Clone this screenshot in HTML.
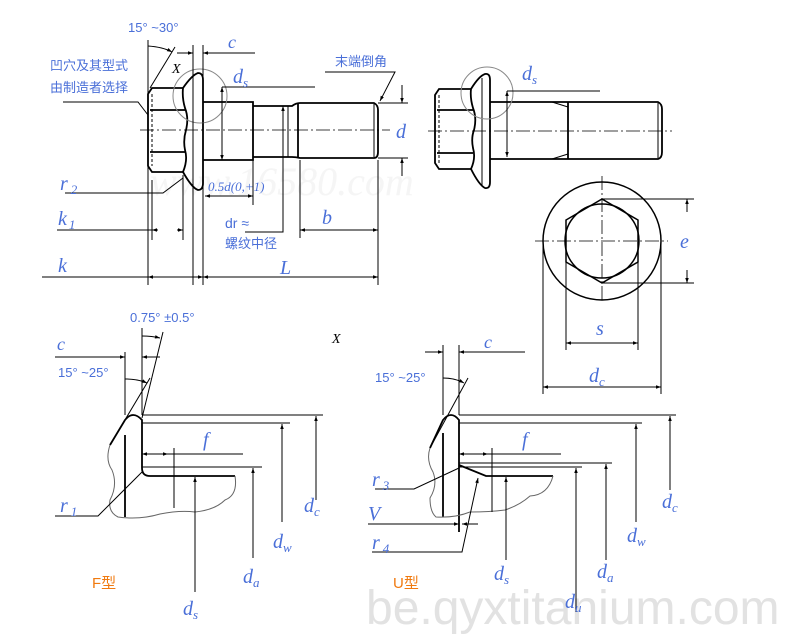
<!DOCTYPE html>
<html><head><meta charset="utf-8"><style>
html,body{margin:0;padding:0;background:#fff}
svg{display:block}
.b{fill:#4a6fd8;font-family:"Liberation Serif",serif;font-style:italic}
.s{fill:#4a6fd8;font-family:"Liberation Sans","Noto Sans CJK SC",sans-serif}
</style></head><body>
<svg width="800" height="640" viewBox="0 0 800 640" xmlns="http://www.w3.org/2000/svg">
<defs><marker id="a" viewBox="0 0 10 10" refX="10" refY="5" markerWidth="7" markerHeight="5" orient="auto-start-reverse"><path d="M0,1.5L10,5L0,8.5z" fill="#000"/></marker></defs>
<text x="150" y="195" font-size="40" fill="#f5f5f5" font-family="Liberation Serif" font-style="italic">www.16580.com</text>
<text x="366" y="624" font-size="48" fill="#e2e2e2" font-family="Liberation Sans">be.qyxtitanium.com</text>
<g fill="none" stroke="#000" stroke-width="1">
<line x1="140" y1="130" x2="390" y2="130" stroke-dasharray="14,3,2,3" stroke-width="0.8"/>
<g stroke-width="1.8">
<path d="M183,88 L152,88 L148,94 L148,166 L152,172 L183,172"/>
<line x1="150" y1="110" x2="185" y2="110"/><line x1="150" y1="152" x2="185" y2="152"/>
<path d="M183,88 Q192,75 198,73 Q203,73 203,80 L203,183 Q203,190 198,190 Q192,188 183,172 Q188,160 185,150 Q183,140 186,130 Q189,118 185,108 Q182,98 183,88"/>
<path d="M203,102 Q208,102 212,102 L253,102 L253,160 L212,160 Q208,160 203,160"/>
<path d="M253,106 L292,106 Q296,103 300,103 L374,103 Q378,105 378,110 L378,152 Q378,158 374,158 L300,158 Q296,157 292,157 L253,157"/>
<line x1="298" y1="103" x2="298" y2="158"/>
</g>
<line x1="374" y1="104" x2="374" y2="157"/>
<line x1="288" y1="106" x2="288" y2="157"/>
<line x1="152" y1="94" x2="152" y2="166" stroke-dasharray="3,2"/>
<circle cx="200" cy="96" r="27" stroke="#888"/>
<line x1="222" y1="87" x2="315" y2="87"/><line x1="222" y1="87" x2="222" y2="160" marker-end="url(#a)" marker-start="url(#a)"/>
<line x1="378" y1="103" x2="408" y2="103"/><line x1="378" y1="158" x2="408" y2="158"/>
<line x1="402" y1="85" x2="402" y2="103" marker-end="url(#a)"/><line x1="402" y1="176" x2="402" y2="158" marker-end="url(#a)"/>
<line x1="148" y1="40" x2="148" y2="285"/><line x1="193" y1="45" x2="193" y2="285"/><line x1="203" y1="45" x2="203" y2="285"/>
<line x1="177" y1="53" x2="193" y2="53" marker-end="url(#a)"/><line x1="255" y1="53" x2="203" y2="53" marker-end="url(#a)"/>
<line x1="150" y1="88" x2="175" y2="47"/><path d="M148,46 Q163,47 172,52" marker-end="url(#a)"/>
<path d="M63,102 L138,102 L148,115"/>
<path d="M65,193 L163,193 L183,178"/>
<line x1="152" y1="180" x2="152" y2="240"/><line x1="183" y1="175" x2="183" y2="240"/>
<line x1="57" y1="230" x2="152" y2="230"/><line x1="158" y1="230" x2="152" y2="230" marker-end="url(#a)"/><line x1="177" y1="230" x2="183" y2="230" marker-end="url(#a)"/>
<line x1="42" y1="277" x2="148" y2="277"/><line x1="175" y1="277" x2="148" y2="277" marker-end="url(#a)"/><line x1="175" y1="277" x2="203" y2="277" marker-end="url(#a)"/>
<line x1="290" y1="277" x2="203" y2="277" marker-end="url(#a)"/><line x1="290" y1="277" x2="378" y2="277" marker-end="url(#a)"/>
<line x1="378" y1="160" x2="378" y2="285"/><line x1="253" y1="160" x2="253" y2="205"/><line x1="300" y1="160" x2="300" y2="238"/>
<line x1="230" y1="196" x2="205" y2="196" marker-end="url(#a)"/><line x1="230" y1="196" x2="253" y2="196" marker-end="url(#a)"/>
<line x1="340" y1="230" x2="300" y2="230" marker-end="url(#a)"/><line x1="340" y1="230" x2="378" y2="230" marker-end="url(#a)"/>
<path d="M245,232 L283,232 L283,106" marker-end="url(#a)"/><line x1="283" y1="140" x2="283" y2="106"/>
<path d="M325,72 L395,72 L380,101" marker-end="url(#a)"/>
<line x1="428" y1="131" x2="672" y2="131" stroke-dasharray="14,3,2,3" stroke-width="0.8"/>
<g stroke-width="1.8">
<path d="M471,89 L439,89 L435,95 L435,163 L439,169 L471,169"/>
<line x1="437" y1="110" x2="473" y2="110"/><line x1="437" y1="153" x2="473" y2="153"/>
<path d="M471,89 Q479,76 485,74 Q490,73 490,80 L490,182 Q490,189 485,188 Q479,185 471,169 Q476,158 473,148 Q471,138 474,130 Q477,118 473,108 Q470,98 471,89"/>
<path d="M490,102 L658,102 Q662,104 662,109 L662,152 Q662,158 658,159 L490,159"/>
<line x1="568" y1="102" x2="568" y2="159"/>
</g>
<line x1="482" y1="78" x2="482" y2="185"/>
<line x1="658" y1="103" x2="658" y2="158"/>
<line x1="439" y1="95" x2="439" y2="163" stroke-dasharray="3,2"/>
<path d="M552,102 L568,107 M552,159 L568,154"/>
<circle cx="487" cy="93" r="26" stroke="#888"/>
<line x1="507" y1="91" x2="600" y2="91"/><line x1="507" y1="91" x2="507" y2="157" marker-end="url(#a)" marker-start="url(#a)"/>
<circle cx="602" cy="241" r="59" stroke-width="1.5"/>
<circle cx="602" cy="241" r="37" stroke-width="1.5"/>
<polygon points="602,199 638,220 638,262 602,283 566,262 566,220" stroke-width="1.5"/>
<line x1="535" y1="241" x2="668" y2="241" stroke-dasharray="14,3,2,3" stroke-width="0.8"/>
<line x1="602" y1="176" x2="602" y2="300" stroke-dasharray="14,3,2,3" stroke-width="0.8"/>
<line x1="602" y1="199" x2="694" y2="199"/><line x1="602" y1="283" x2="694" y2="283"/>
<line x1="687" y1="212" x2="687" y2="199" marker-end="url(#a)"/><line x1="687" y1="270" x2="687" y2="283" marker-end="url(#a)"/>
<line x1="566" y1="262" x2="566" y2="350"/><line x1="638" y1="262" x2="638" y2="350"/>
<line x1="602" y1="343" x2="566" y2="343" marker-end="url(#a)"/><line x1="602" y1="343" x2="638" y2="343" marker-end="url(#a)"/>
<line x1="543" y1="245" x2="543" y2="394"/><line x1="661" y1="245" x2="661" y2="394"/>
<line x1="602" y1="387" x2="543" y2="387" marker-end="url(#a)"/><line x1="602" y1="387" x2="661" y2="387" marker-end="url(#a)"/>
<line x1="125" y1="352" x2="125" y2="415"/><line x1="142" y1="328" x2="142" y2="415"/>
<line x1="55" y1="357" x2="125" y2="357" marker-end="url(#a)"/><line x1="160" y1="357" x2="142" y2="357" marker-end="url(#a)"/>
<line x1="142" y1="418" x2="163" y2="332"/><path d="M142,336 Q152,336 160,338" marker-end="url(#a)"/>
<line x1="110" y1="445" x2="150" y2="378"/><path d="M125,379 Q138,379 147,383" marker-end="url(#a)"/>
<g stroke-width="1.8">
<path d="M110,445 L125,420 Q133,410 142,420 L142,468 Q142,476 150,476 L235,476"/>
<line x1="125" y1="435" x2="125" y2="517"/>
</g>
<path d="M110,445 Q105,460 112,470 Q118,485 110,500 Q108,512 118,517 Q140,520 160,514 Q180,510 195,512 Q215,510 225,500 Q238,495 235,476" stroke="#666"/>
<line x1="142" y1="415" x2="323" y2="415"/><line x1="142" y1="423" x2="290" y2="423"/>
<line x1="142" y1="454" x2="243" y2="454"/><line x1="142" y1="467" x2="262" y2="467"/>
<line x1="174" y1="448" x2="174" y2="508"/>
<line x1="160" y1="454" x2="142" y2="454" marker-end="url(#a)"/><line x1="158" y1="454" x2="168" y2="454" marker-end="url(#a)"/>
<line x1="316" y1="500" x2="316" y2="416" marker-end="url(#a)"/>
<line x1="282" y1="522" x2="282" y2="424" marker-end="url(#a)"/>
<line x1="253" y1="558" x2="253" y2="468" marker-end="url(#a)"/>
<line x1="195" y1="592" x2="195" y2="477" marker-end="url(#a)"/>
<path d="M55,516 L98,516 L142,472"/>
<line x1="443" y1="345" x2="443" y2="415"/><line x1="459" y1="345" x2="459" y2="415"/>
<line x1="425" y1="352" x2="443" y2="352" marker-end="url(#a)"/><line x1="525" y1="352" x2="459" y2="352" marker-end="url(#a)"/>
<line x1="430" y1="448" x2="468" y2="378"/><path d="M443,378 Q455,378 464,383" marker-end="url(#a)"/>
<g stroke-width="1.8">
<path d="M430,448 L443,420 Q451,410 459,420 L459,532"/>
<line x1="443" y1="433" x2="443" y2="517"/>
<path d="M459,465 L486,476 L553,476"/>
</g>
<path d="M430,448 Q426,460 433,472 Q438,485 430,498 Q430,512 436,517 Q455,518 470,512 Q490,512 505,510 Q520,505 530,496 Q548,495 553,476" stroke="#666"/>
<line x1="459" y1="415" x2="676" y2="415"/><line x1="459" y1="423" x2="642" y2="423"/>
<line x1="459" y1="454" x2="561" y2="454"/><line x1="459" y1="463" x2="612" y2="463"/><line x1="459" y1="467" x2="582" y2="467"/>
<line x1="492" y1="448" x2="492" y2="512"/>
<line x1="475" y1="454" x2="459" y2="454" marker-end="url(#a)"/><line x1="475" y1="454" x2="488" y2="454" marker-end="url(#a)"/>
<line x1="670" y1="490" x2="670" y2="416" marker-end="url(#a)"/>
<line x1="636" y1="522" x2="636" y2="424" marker-end="url(#a)"/>
<line x1="606" y1="560" x2="606" y2="464" marker-end="url(#a)"/>
<line x1="576" y1="612" x2="576" y2="468" marker-end="url(#a)"/>
<line x1="506" y1="560" x2="506" y2="477" marker-end="url(#a)"/>
<path d="M375,489 L414,489 L459,468"/>
<line x1="368" y1="524" x2="459" y2="524" marker-end="url(#a)"/><line x1="478" y1="524" x2="462" y2="524" marker-end="url(#a)"/>
<path d="M372,552 L462,552 L478,478" marker-end="url(#a)"/>
</g>
<g class="s" font-size="13">
<text x="128" y="32">15° ~30°</text>
<text x="50" y="70" font-size="13">凹穴及其型式</text>
<text x="50" y="92" font-size="13">由制造者选择</text>
<text x="335" y="66">末端倒角</text>
<text x="225" y="228" font-size="14">dr ≈</text>
<text x="225" y="248">螺纹中径</text>
<text x="130" y="322">0.75° ±0.5°</text>
<text x="58" y="377">15° ~25°</text>
<text x="375" y="382">15° ~25°</text>
<text x="92" y="588" font-size="15" style="fill:#f07a10">F型</text>
<text x="393" y="588" font-size="15" style="fill:#f07a10">U型</text>
</g>
<g class="b" font-size="20">
<text x="228" y="48" font-size="18">c</text>
<text x="233" y="83">d<tspan font-size="13" dy="4">s</tspan></text>
<text x="172" y="73" font-size="14" style="fill:#000">X</text>
<text x="396" y="138">d</text>
<text x="60" y="190">r<tspan font-size="13" dx="3" dy="4">2</tspan></text>
<text x="208" y="191" font-size="13">0.5d(0,+1)</text>
<text x="58" y="225">k<tspan font-size="13" dx="2" dy="4">1</tspan></text>
<text x="322" y="224">b</text>
<text x="58" y="272">k</text>
<text x="280" y="274">L</text>
<text x="522" y="80">d<tspan font-size="13" dy="4">s</tspan></text>
<text x="680" y="248">e</text>
<text x="596" y="335">s</text>
<text x="589" y="382">d<tspan font-size="13" dy="4">c</tspan></text>
<text x="57" y="350" font-size="18">c</text>
<text x="332" y="343" font-size="14" style="fill:#000">X</text>
<text x="203" y="446">f</text>
<text x="60" y="512">r<tspan font-size="13" dx="3" dy="4">1</tspan></text>
<text x="304" y="512">d<tspan font-size="13" dy="4">c</tspan></text>
<text x="273" y="548">d<tspan font-size="13" dy="4">w</tspan></text>
<text x="243" y="583">d<tspan font-size="13" dy="4">a</tspan></text>
<text x="183" y="615">d<tspan font-size="13" dy="4">s</tspan></text>
<text x="484" y="348" font-size="18">c</text>
<text x="522" y="446">f</text>
<text x="372" y="486">r<tspan font-size="13" dx="3" dy="4">3</tspan></text>
<text x="368" y="520">V</text>
<text x="372" y="549">r<tspan font-size="13" dx="3" dy="4">4</tspan></text>
<text x="662" y="508">d<tspan font-size="13" dy="4">c</tspan></text>
<text x="627" y="542">d<tspan font-size="13" dy="4">w</tspan></text>
<text x="597" y="578">d<tspan font-size="13" dy="4">a</tspan></text>
<text x="494" y="580">d<tspan font-size="13" dy="4">s</tspan></text>
<text x="565" y="608">d<tspan font-size="13" dy="4">u</tspan></text>
</g>
</svg>
</body></html>
